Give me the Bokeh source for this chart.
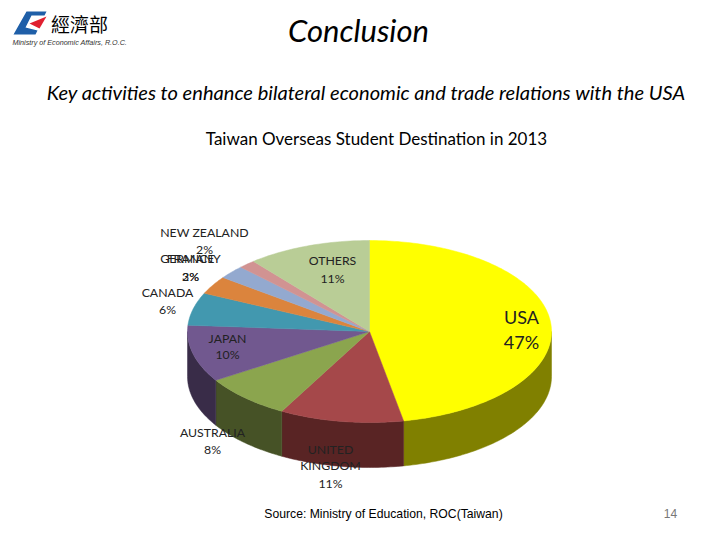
import math
from bokeh.plotting import figure
from bokeh.models import ColumnDataSource
from bokeh.embed import file_html
from bokeh.resources import INLINE

# ---- data (shares in %, clockwise from 12 o'clock)
categories = ["USA", "UNITED KINGDOM", "AUSTRALIA", "JAPAN", "CANADA", "FRANCE", "GERMANY", "NEW ZEALAND", "OTHERS"]
shares = [47.0, 11.0, 8.0, 10.1, 5.8, 3.2, 2.4, 1.5, 11.0]
pct_labels = ["47%", "11%", "8%", "10%", "6%", "3%", "2%", "2%", "11%"]
top_colors = ["#FFFF00", "#A5484A", "#8BA54E", "#71588F", "#4298AF", "#DB843D", "#93A9CF", "#D19392", "#B9CD96"]
side_colors = ["#808000", "#592424", "#465226", "#392C48", "#215766", "#6E421E", "#4A5468", "#684A49", "#5C664B"]
title = "Conclusion"
subtitle = "Key activities to enhance bilateral economic and trade relations with the USA"
chart_title = "Taiwan Overseas Student Destination in 2013"
source_note = "Source: Ministry of Education, ROC(Taiwan)"
page_number = "14"

# ---- layout (reference-pixel space)
CX, CY, RX, RY, DEPTH = 369, 331, 182, 91, 45
label_lines = {
    "USA": (521, [316]), "UNITED KINGDOM": (330, [449, 465, 483]), "AUSTRALIA": (212, [432, 449]),
    "JAPAN": (227, [338, 354]), "CANADA": (167, [292, 309]), "FRANCE": (190, [258, 276]),
    "GERMANY": (190, [258, 276]), "NEW ZEALAND": (204, [232, 249]), "OTHERS": (332, [260, 278]),
}

p = figure(width=704, height=524, x_range=(0, 704), y_range=(524, 0),
           output_backend="svg", toolbar_location=None, min_border=0)
p.axis.visible = False
p.grid.visible = False
p.outline_line_color = None
p.background_fill_color = "white"


def ell(deg):
    r = math.radians(deg)
    return CX + RX * math.sin(r), CY - RY * math.cos(r)


total = sum(shares)
edges = [0.0]
for s in shares:
    edges.append(edges[-1] + s / total * 360)

# side walls: only the front half (90..270 degrees) is visible
for i in range(len(shares)):
    a0, a1 = max(edges[i], 90), min(edges[i + 1], 270)
    if a1 <= a0:
        continue
    n = max(2, int(a1 - a0) + 1)
    pts = [ell(a0 + (a1 - a0) * k / (n - 1)) for k in range(n)]
    xs = [q[0] for q in pts] + [q[0] for q in reversed(pts)]
    ys = [q[1] for q in pts] + [q[1] + DEPTH for q in reversed(pts)]
    p.patch(xs, ys, fill_color=side_colors[i], line_color=side_colors[i], line_width=0.5)

# top faces
for i in range(len(shares)):
    a0, a1 = edges[i], edges[i + 1]
    n = max(2, int(a1 - a0) + 1)
    pts = [ell(a0 + (a1 - a0) * k / (n - 1)) for k in range(n)]
    p.patch([CX] + [q[0] for q in pts], [CY] + [q[1] for q in pts],
            fill_color=top_colors[i], line_color=top_colors[i], line_width=0.5)

# data labels
xs, ys, txt, sizes = [], [], [], []
for cat, pct in zip(categories, pct_labels):
    x, lines = label_lines[cat]
    words = ["UNITED", "KINGDOM"] if cat == "UNITED KINGDOM" else [cat]
    for t, y in zip(words + [pct], lines + ([341] if cat == "USA" else [])):
        xs.append(x); ys.append(y); txt.append(t)
        sizes.append("18px" if cat == "USA" else "12.3px")
p.text(x="x", y="y", text="t", text_font_size="s", text_font={"value": "Lato"},
       text_align="center", text_baseline="middle", text_color="#222222",
       source=ColumnDataSource(dict(x=xs, y=ys, t=txt, s=sizes)))


def label(x, y, t, size, font="Lato", style="normal", align="center", color="black"):
    p.text([x], [y], text=[t], text_font_size=size, text_font={"value": font}, text_font_style=style,
           text_align=align, text_baseline="middle", text_color=color)


label(358, 29, title, "31px", style="italic")
label(366, 91.5, subtitle, "20.1px", style="italic")
label(376, 138, chart_title, "17px")
label(383, 513, source_note, "12.2px", font="Liberation Sans")
label(670, 513, page_number, "12px", font="Liberation Sans", color="#777777")

# logo
p.patch([26, 46, 44, 31, 25, 37, 35, 13], [11, 11, 15, 15, 27, 30, 34, 34],
        fill_color="#1F5FA8", line_color=None)
p.patch([46, 29, 39], [16, 23, 28], fill_color="#E02030", line_color=None)
label(79, 23, "經濟部", "19px", font="Noto Sans CJK TC")
label(12, 42, "Ministry of Economic Affairs, R.O.C.", "7.2px", font="Liberation Sans", style="italic", align="left", color="#333333")

open("out.html", "w").write(file_html(p, INLINE))
